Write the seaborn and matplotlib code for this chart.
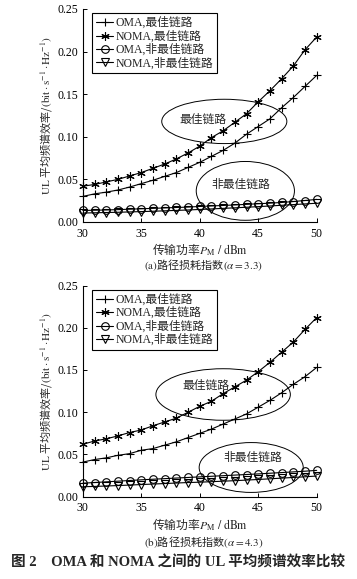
import matplotlib
matplotlib.use("Agg")
import matplotlib.pyplot as plt
from matplotlib.patches import Ellipse
from matplotlib.ticker import FormatStrFormatter
import seaborn as sns

# power axis (dBm)
power = list(range(30, 51))

# (a) path loss exponent 3.3
a_oma_best = [0.030, 0.033, 0.035, 0.0375, 0.041, 0.045, 0.049, 0.0535, 0.058, 0.064, 0.070,
              0.077, 0.084, 0.0925, 0.103, 0.112, 0.121, 0.134, 0.146, 0.159, 0.172]
a_noma_best = [0.042, 0.044, 0.047, 0.050, 0.054, 0.058, 0.063, 0.068, 0.074, 0.081, 0.089,
               0.099, 0.107, 0.117, 0.127, 0.141, 0.154, 0.168, 0.183, 0.202, 0.217]
a_oma_worst = [0.0135, 0.0138, 0.0141, 0.0145, 0.0150, 0.0155, 0.0160, 0.0165, 0.0170, 0.0175, 0.0182,
               0.0188, 0.0194, 0.0200, 0.0207, 0.0214, 0.0221, 0.0229, 0.0240, 0.0252, 0.0265]
a_noma_worst = [0.0105, 0.0108, 0.0111, 0.0114, 0.0118, 0.0122, 0.0126, 0.0131, 0.0136, 0.0141, 0.0147,
                0.0153, 0.0160, 0.0166, 0.0173, 0.0180, 0.0188, 0.0196, 0.0204, 0.0212, 0.0220]

# (b) path loss exponent 4.3
b_oma_best = [0.041, 0.044, 0.046, 0.049, 0.051, 0.055, 0.057, 0.061, 0.065, 0.070, 0.075,
              0.080, 0.086, 0.092, 0.098, 0.106, 0.114, 0.123, 0.133, 0.142, 0.153]
b_noma_best = [0.062, 0.066, 0.0685, 0.072, 0.076, 0.079, 0.084, 0.0885, 0.093, 0.100, 0.107,
               0.113, 0.122, 0.130, 0.138, 0.148, 0.159, 0.171, 0.183, 0.198, 0.212]
b_oma_worst = [0.0160, 0.0168, 0.0176, 0.0184, 0.0192, 0.0200, 0.0207, 0.0214, 0.0221, 0.0228, 0.0235,
               0.0242, 0.0249, 0.0256, 0.0263, 0.0270, 0.0278, 0.0286, 0.0294, 0.0302, 0.0312]
b_noma_worst = [0.0118, 0.0122, 0.0127, 0.0132, 0.0138, 0.0144, 0.0150, 0.0156, 0.0162, 0.0168, 0.0172,
                0.0178, 0.0184, 0.0190, 0.0197, 0.0204, 0.0212, 0.0220, 0.0228, 0.0236, 0.0245]

labels = ["OMA,最佳链路", "NOMA,最佳链路", "OMA,非最佳链路", "NOMA,非最佳链路"]
yticks = [0.00, 0.05, 0.10, 0.15, 0.20, 0.25]
xticks = [30, 35, 40, 45, 50]

sns.set_style("ticks")
plt.rcParams['font.family'] = ['Liberation Serif', 'Noto Sans CJK SC']
plt.rcParams['mathtext.fontset'] = 'stix'
plt.rcParams['xtick.direction'] = 'in'
plt.rcParams['ytick.direction'] = 'in'

CJK = 'Noto Sans CJK SC'

fig = plt.figure(figsize=(3.57, 5.79), dpi=100)
ax_a = fig.add_axes([0.232, 0.6166, 0.655, 0.368])
ax_b = fig.add_axes([0.232, 0.1421, 0.655, 0.3648])

markers = ['+', (6, 2, 0), 'o', 'v']
sizes = [6, 6, 5.5, 5.5]


def draw_panel(ax, series, ell_best, ell_worst, txt_best, txt_worst):
    for vals, lab, mk, ms in zip(series, labels, markers, sizes):
        sns.lineplot(x=power, y=vals, ax=ax, color='black', lw=0.8, label=lab,
                     marker=mk, markersize=ms, markerfacecolor='none',
                     markeredgecolor='black', markeredgewidth=0.8, clip_on=False)
    for (cx, cy, w, h) in (ell_best, ell_worst):
        ax.add_patch(Ellipse((cx, cy), w, h, facecolor='none', edgecolor='black', lw=0.7))
    ax.text(txt_best[0], txt_best[1], "最佳链路", family=CJK, fontsize=8.5,
            ha='center', va='center')
    ax.text(txt_worst[0], txt_worst[1], "非最佳链路", family=CJK, fontsize=8.5,
            ha='center', va='center')
    ax.set_xlim(30, 50)
    ax.set_ylim(0, 0.25)
    ax.set_xticks(xticks)
    ax.set_yticks(yticks)
    ax.yaxis.set_major_formatter(FormatStrFormatter('%.2f'))
    ax.tick_params(labelsize=8.5, length=3, width=0.7, colors='black')
    ax.tick_params(axis='x', pad=4)
    ax.tick_params(axis='y', pad=3)
    sns.despine(ax=ax)
    for s in ('left', 'bottom'):
        ax.spines[s].set_linewidth(0.8)
        ax.spines[s].set_color('black')
    ax.set_xlabel(r"传输功率$P_{\mathrm{M}}\ /\ \mathrm{dBm}$", family=CJK, fontsize=8.5, labelpad=1)
    ax.set_ylabel(r"$\mathrm{UL}$ 平均频谱效率/$(\mathrm{bit}\cdot\mathrm{s}^{-1}\cdot\mathrm{Hz}^{-1})$",
                  family=CJK, fontsize=8, labelpad=3)
    leg = ax.legend(loc='upper left', bbox_to_anchor=(0.03, 0.99), fontsize=8.5,
                    frameon=True, fancybox=False, edgecolor='black', framealpha=1,
                    handlelength=1.5, handletextpad=0.2, labelspacing=0.1,
                    borderpad=0.3, borderaxespad=0.2)
    leg.get_frame().set_linewidth(0.8)


draw_panel(ax_a, [a_oma_best, a_noma_best, a_oma_worst, a_noma_worst],
           (42.1, 0.118, 10.7, 0.052), (43.9, 0.0365, 8.4, 0.069),
           (40.3, 0.121), (43.5, 0.0445))
draw_panel(ax_b, [b_oma_best, b_noma_best, b_oma_worst, b_noma_worst],
           (42.0, 0.121, 11.5, 0.061), (44.4, 0.0346, 8.9, 0.059),
           (40.5, 0.132), (44.5, 0.047))

fig.text(0.57, 1 - 265 / 579, r"$\mathrm{(a)}$路径损耗指数$(\alpha=3.3)$", family=CJK,
         fontsize=8, ha='center', va='center')
fig.text(0.57, 1 - 542 / 579, r"$\mathrm{(b)}$路径损耗指数$(\alpha=4.3)$", family=CJK,
         fontsize=8, ha='center', va='center')
fig.text(0.5, 1 - 563 / 579, "图 2    OMA 和 NOMA 之间的 UL 平均频谱效率比较",
         fontsize=10.5, fontweight='bold', ha='center', va='center')

fig.savefig("out.png", dpi=100)
